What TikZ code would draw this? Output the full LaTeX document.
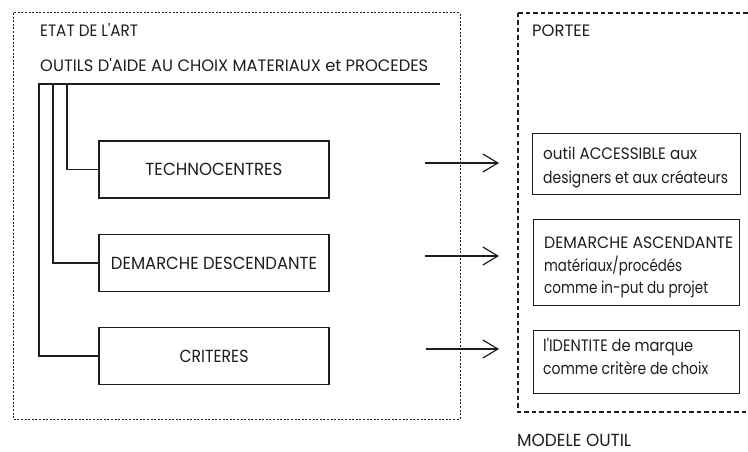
\documentclass[tikz,border=0pt]{standalone}
\usepackage{fontspec}
\setmainfont{Poppins}
\usetikzlibrary{arrows.meta}
\definecolor{ink}{RGB}{30,30,30}
\newcommand{\fitw}[2]{\resizebox{#1}{\height}{#2}}
\begin{document}
\begin{tikzpicture}[x=1pt,y=-1pt,
  txt/.style={anchor=base west,inner sep=0pt,text=ink,font=\fontsize{16.5}{18}\selectfont},
  lbox/.style={draw=ink,line width=1.2pt,minimum width=230pt,minimum height=57pt,inner sep=0pt,text=ink,font=\fontsize{17.5}{19}\selectfont},
  rbox/.style={draw=ink,line width=1.2pt,anchor=north west,inner sep=0pt,text=ink},
  rtxt/.style={anchor=base west,inner sep=0pt,text=ink,font=\fontsize{16.5}{18}\selectfont},
  link/.style={draw=ink,line width=1.2pt},
  arr/.style={draw=ink,line width=1.2pt,-{Straight Barb[length=15pt,width=18pt,line width=1.2pt]}},
  fine/.style={draw=ink,line width=1pt,dash pattern=on 2pt off 1.6pt},
  thick/.style={draw=ink,line width=2.4pt,dash pattern=on 4.5pt off 3pt}]
\useasboundingbox (0,0) rectangle (748,452);
\clip (0,0) rectangle (748,452);
\fill[white] (0,0) rectangle (748,452);
% frames
\draw[fine] (13,13) rectangle (460,419);
\draw[thick] (518,13) rectangle (770,412);
% headings
\node[txt] (etat) at (40,36.5) {\fitw{98pt}{ETAT DE L\textquotesingle ART}};
\node[txt] (outils) at (40,71.5) {\fitw{388pt}{OUTILS D\textquotesingle AIDE AU CHOIX MATERIAUX et PROCEDES}};
\node[txt] (portee) at (532,36.5) {\fitw{58pt}{PORTEE}};
\node[txt,font=\fontsize{17.5}{19}\selectfont] (modele) at (517,446) {\fitw{114pt}{MODELE OUTIL}};
% tree
\coordinate (hl) at (38,84);
\coordinate (hr) at (440,84);
\draw[link] (hl) -- (hr);
\node[lbox] (T) at (214,169.5) {\fitw{137pt}{TECHNOCENTRES}};
\node[lbox] (D) at (214,263) {\fitw{206pt}{DEMARCHE DESCENDANTE}};
\node[lbox] (C) at (214,356) {\fitw{69pt}{CRITERES}};
\coordinate (vT) at (67,84);
\coordinate (vD) at (53,84);
\coordinate (vC) at (39,84);
\draw[link] (vT) |- (T.west);
\draw[link] (vD) |- (D.west);
\draw[link] (vC) |- (C.west);
% right boxes
\node[rbox,minimum width=208pt,minimum height=61pt] (R1) at (532,133) {};
\node[rtxt] (r1a) at (543,160) {\fitw{154pt}{outil ACCESSIBLE aux}};
\node[rtxt] (r1b) at (543,183) {\fitw{185pt}{designers et aux créateurs}};
\node[rbox,minimum width=206pt,minimum height=86pt] (R2) at (533,219) {};
\node[rtxt] (r2a) at (544,248) {\fitw{189pt}{DEMARCHE ASCENDANTE}};
\node[rtxt] (r2b) at (544,271) {\fitw{138pt}{matériaux/procédés}};
\node[rtxt] (r2c) at (544,293) {\fitw{164pt}{comme in-put du projet}};
\node[rbox,minimum width=206pt,minimum height=63pt] (R3) at (533,330) {};
\node[rtxt] (r3a) at (543,351) {\fitw{150pt}{l\textquotesingle IDENTITE de marque}};
\node[rtxt] (r3b) at (543,374) {\fitw{165pt}{comme critère de choix}};
% arrows
\coordinate (a1s) at (425,163); \coordinate (a1e) at (499,163);
\coordinate (a2s) at (425,256); \coordinate (a2e) at (499,256);
\coordinate (a3s) at (426,349); \coordinate (a3e) at (499,349);
\draw[arr] (a1s) -- (a1e);
\draw[arr] (a2s) -- (a2e);
\draw[arr] (a3s) -- (a3e);
\end{tikzpicture}
\end{document}
